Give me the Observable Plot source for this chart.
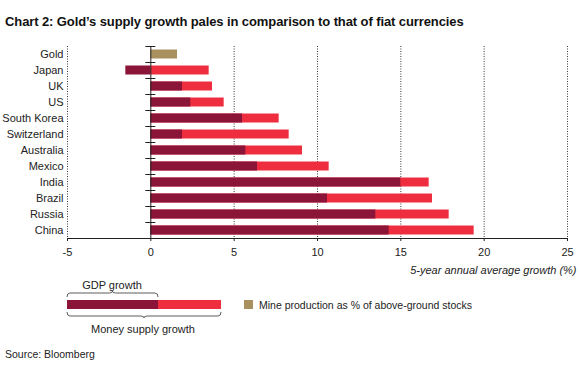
<!DOCTYPE html>
<html>
<head>
<meta charset="utf-8">
<script src="https://cdn.jsdelivr.net/npm/d3@7"></script>
<script src="https://cdn.jsdelivr.net/npm/@observablehq/plot@0.6"></script>
<style>
  body { margin: 0; background: #fff; font-family: "Liberation Sans", Arial, sans-serif; }
  #wrap { position: relative; width: 580px; height: 366px; overflow: hidden; }
  #title { position: absolute; left: 5px; top: 14px; font-size: 13px; font-weight: bold; color: #111; white-space: nowrap; letter-spacing: -0.1px; }
  #chart { position: absolute; left: 0; top: 36px; }
  #legend { position: absolute; left: 0; top: 276px; }
  #source { position: absolute; left: 5px; top: 348px; font-size: 10.5px; color: #222; white-space: nowrap; }
</style>
</head>
<body>
<div id="wrap">
  <div id="title">Chart 2: Gold’s supply growth pales in comparison to that of fiat currencies</div>
  <div id="chart"></div>
  <svg id="legend" width="580" height="66"></svg>
  <div id="source">Source: Bloomberg</div>
</div>
<script>
const countries = ["Gold","Japan","UK","US","South Korea","Switzerland","Australia","Mexico","India","Brazil","Russia","China"];
const gdpGrowth = [null, -1.5, 1.9, 2.4, 5.5, 1.9, 5.7, 6.4, 15.0, 10.6, 13.5, 14.3];
const moneyGrowth = [null, 3.5, 3.7, 4.4, 7.7, 8.3, 9.1, 10.7, 16.7, 16.9, 17.9, 19.4];
const goldMine = [1.6];
const xTicks = [-5, 0, 5, 10, 15, 20, 25];
const gridTicks = [-5, 5, 10, 15, 20, 25];
const axisTitle = "5-year annual average growth (%)";

const DARK = "#8a1538", RED = "#ee2e3f", GOLD = "#a8915f";

const rows = countries.map((c, i) => ({country: c, gdp: gdpGrowth[i], money: moneyGrowth[i]}));
const fiat = rows.filter(d => d.money != null);
const gold = [{country: countries[0], value: goldMine[0]}];

const chart = Plot.plot({
  width: 580,
  height: 240,
  marginLeft: 67,
  marginRight: 13,
  marginTop: 10,
  marginBottom: 38,
  style: {fontFamily: "'Liberation Sans', Arial, sans-serif", fontSize: "11px", color: "#222", background: "transparent"},
  x: {domain: [-5, 25], ticks: xTicks},
  y: {domain: countries, padding: 0},
  marks: [
    Plot.gridX(gridTicks, {stroke: "#222", strokeOpacity: 0.9, strokeDasharray: "1,1.5"}),
    Plot.barX(fiat, {y: "country", x1: 0, x2: "money", fill: RED, insetTop: 3.5, insetBottom: 3.5}),
    Plot.barX(fiat, {y: "country", x1: 0, x2: "gdp", fill: DARK, insetTop: 3.5, insetBottom: 3.5}),
    Plot.barX(gold, {y: "country", x1: 0, x2: "value", fill: GOLD, insetTop: 3.5, insetBottom: 3.5}),
    Plot.ruleX([0], {stroke: "#222"}),
    Plot.ruleY(countries, {y: d => d, x1: -0.3, x2: 0.3, dy: -8, stroke: "#222"}),
    Plot.axisY({tickSize: 0, tickPadding: 4, label: null, fontSize: 11}),
    Plot.axisX(xTicks, {tickSize: 3, tickPadding: 7, label: null, fontSize: 11, tickFormat: d => String(d)}),
    Plot.frame({anchor: "bottom", stroke: "#222"}),
    Plot.text([axisTitle], {frameAnchor: "bottom-right", dx: 9, dy: 35, textAnchor: "end", fontStyle: "italic", fontSize: 11, fill: "#222"})
  ]
});
document.getElementById("chart").appendChild(chart);

// Legend
const lg = d3.select("#legend");
const lf = "'Liberation Sans', Arial, sans-serif";
const barY = 24, barH = 9;
lg.append("rect").attr("x", 67).attr("y", barY).attr("width", 91).attr("height", barH).attr("fill", DARK);
lg.append("rect").attr("x", 158).attr("y", barY).attr("width", 63).attr("height", barH).attr("fill", RED);
function brace(x1, x2, y, dir) {
  const m = (x1 + x2) / 2, h = 4 * dir, r = 2 * dir;
  return `M${x1},${y + h} Q${x1},${y} ${x1 + 3},${y} L${m - 3},${y} Q${m},${y} ${m},${y - r} Q${m},${y} ${m + 3},${y} L${x2 - 3},${y} Q${x2},${y} ${x2},${y + h}`;
}
lg.append("path").attr("d", brace(67, 158, 17, 1)).attr("fill", "none").attr("stroke", "#333").attr("stroke-width", 0.8);
lg.append("path").attr("d", brace(67, 221, 40, -1)).attr("fill", "none").attr("stroke", "#333").attr("stroke-width", 0.8);
lg.append("text").attr("x", 112).attr("y", 13).attr("text-anchor", "middle").attr("font-family", lf).attr("font-size", 11).attr("fill", "#222").text("GDP growth");
lg.append("text").attr("x", 143).attr("y", 57).attr("text-anchor", "middle").attr("font-family", lf).attr("font-size", 11).attr("fill", "#222").text("Money supply growth");
lg.append("rect").attr("x", 244).attr("y", 24).attr("width", 9).attr("height", 9).attr("fill", GOLD);
lg.append("text").attr("x", 259).attr("y", 32.5).attr("font-family", lf).attr("font-size", 10.5).attr("fill", "#222").text("Mine production as % of above-ground stocks");
</script>
</body>
</html>
